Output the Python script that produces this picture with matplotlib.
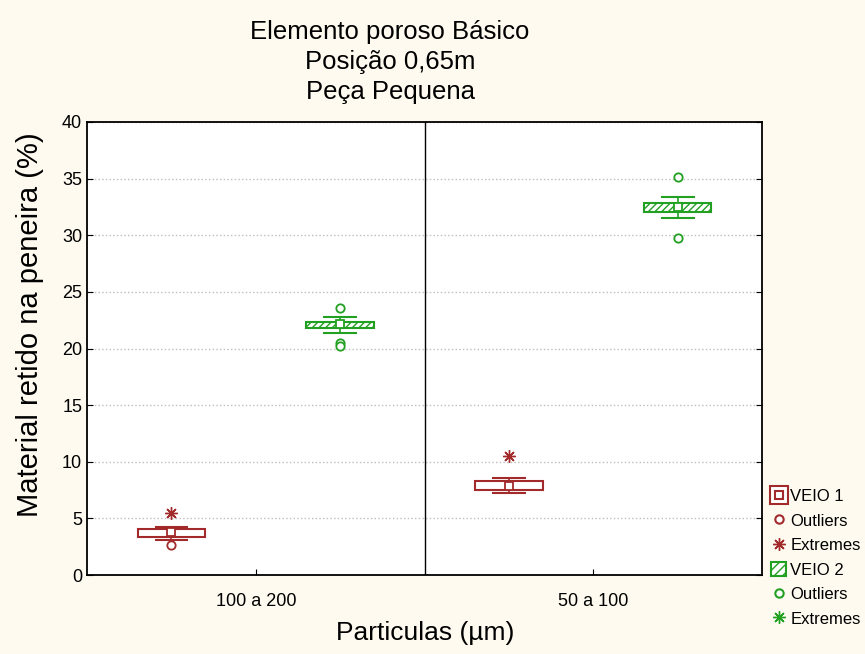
import matplotlib
matplotlib.use("Agg")
import matplotlib.pyplot as plt
from matplotlib.lines import Line2D
from matplotlib.patches import Patch

plt.rcParams['font.family'] = ['Liberation Sans', 'DejaVu Sans']

# categories on the x axis
categories = ['100 a 200', '50 a 100']

# VEIO 1
v1_median = [3.78, 7.9]
v1_box_lo = [3.35, 7.5]
v1_box_hi = [4.05, 8.3]
v1_whis_lo = [3.1, 7.2]
v1_whis_hi = [4.2, 8.55]
v1_outliers = [[2.65], []]
v1_extremes = [[5.45], [10.5]]

# VEIO 2
v2_median = [22.2, 32.47]
v2_box_lo = [21.85, 32.07]
v2_box_hi = [22.38, 32.86]
v2_whis_lo = [21.41, 31.5]
v2_whis_hi = [22.82, 33.4]
v2_outliers = [[23.6, 20.5, 20.2], [35.1, 29.8]]
v2_extremes = [[], []]

red = '#A32A2A'
green = '#22A022'
bg = '#FEFAF0'
star = (8, 2, 0)

fig = plt.figure(figsize=(8.65, 6.54), dpi=100, facecolor=bg)
ax = fig.add_axes([87 / 865, 1 - 575 / 654, (762 - 87) / 865, (575 - 122) / 654])
ax.set_facecolor('white')


def draw_series(offset, med, lo, hi, wlo, whi, outl, extr, color, hatch):
    xs = [i + offset for i in range(len(categories))]
    box_w = 0.2
    cap_w = 0.1
    ax.bar(xs, [h - l for h, l in zip(hi, lo)], bottom=lo, width=box_w,
           facecolor='white', edgecolor=color, linewidth=1.5, hatch=hatch, zorder=3)
    ax.vlines(xs, wlo, lo, color=color, lw=1.2, zorder=3)
    ax.vlines(xs, hi, whi, color=color, lw=1.2, zorder=3)
    ax.hlines(wlo, [x - cap_w / 2 for x in xs], [x + cap_w / 2 for x in xs], color=color, lw=1.5, zorder=3)
    ax.hlines(whi, [x - cap_w / 2 for x in xs], [x + cap_w / 2 for x in xs], color=color, lw=1.5, zorder=3)
    ax.plot(xs, med, ls='none', marker='s', ms=6, mfc='white', mec=color, mew=1.3, zorder=4)
    for x, pts in zip(xs, outl):
        ax.plot([x] * len(pts), pts, ls='none', marker='o', ms=6, mfc='white', mec=color, mew=1.3, zorder=4)
    for x, pts in zip(xs, extr):
        ax.plot([x] * len(pts), pts, ls='none', marker=star, ms=9, color=color, mew=1.0, zorder=4)


draw_series(-0.25, v1_median, v1_box_lo, v1_box_hi, v1_whis_lo, v1_whis_hi,
            v1_outliers, v1_extremes, red, None)
draw_series(0.25, v2_median, v2_box_lo, v2_box_hi, v2_whis_lo, v2_whis_hi,
            v2_outliers, v2_extremes, green, '/////')

ax.axvline(0.5, color='black', lw=1)
ax.set_xlim(-0.5, 1.5)
ax.set_ylim(0, 40)
ax.set_xticks(range(len(categories)))
ax.set_xticklabels(categories, fontsize=13)
ax.set_yticks(range(0, 41, 5))
ax.tick_params(axis='y', direction='in', right=True, labelsize=13, length=4)
ax.tick_params(axis='x', direction='in', labelsize=13, length=4, pad=13)
ax.yaxis.grid(True, linestyle=':', color='#BDBDBD', lw=1)
ax.set_axisbelow(True)
for s in ax.spines.values():
    s.set_linewidth(1.3)

fig.text(390 / 865, 1 - 62 / 654, 'Elemento poroso Básico\nPosição 0,65m\nPeça Pequena',
         ha='center', va='center', fontsize=18.5, linespacing=1.3)
fig.text(425 / 865, 1 - 633 / 654, 'Particulas (µm)', ha='center', va='center', fontsize=19)
fig.text(30 / 865, 1 - 325 / 654, 'Material retido na peneira (%)', ha='center', va='center',
         rotation=90, fontsize=21)

handles = [
    (Line2D([], [], ls='none', marker='s', ms=13, mfc='white', mec=red, mew=1.5),
     Line2D([], [], ls='none', marker='s', ms=6, mfc='white', mec=red, mew=1.5)),
    Line2D([], [], ls='none', marker='o', ms=6, mfc='white', mec=red, mew=1.5),
    Line2D([], [], ls='none', marker=star, ms=9, color=red, mew=1.0),
    Patch(facecolor='white', edgecolor=green, hatch='////', lw=1.5),
    Line2D([], [], ls='none', marker='o', ms=6, mfc='white', mec=green, mew=1.5),
    Line2D([], [], ls='none', marker=star, ms=9, color=green, mew=1.0),
]
labels = ['VEIO 1', 'Outliers', 'Extremes', 'VEIO 2', 'Outliers', 'Extremes']
fig.legend(handles, labels, loc='upper left', bbox_to_anchor=(771 / 865, 1 - 488 / 654),
           frameon=False, fontsize=12, handlelength=0.9, handleheight=1.0,
           handletextpad=0.25, labelspacing=0.5, borderaxespad=0, borderpad=0)

fig.savefig('out.png', dpi=100, facecolor=bg)
